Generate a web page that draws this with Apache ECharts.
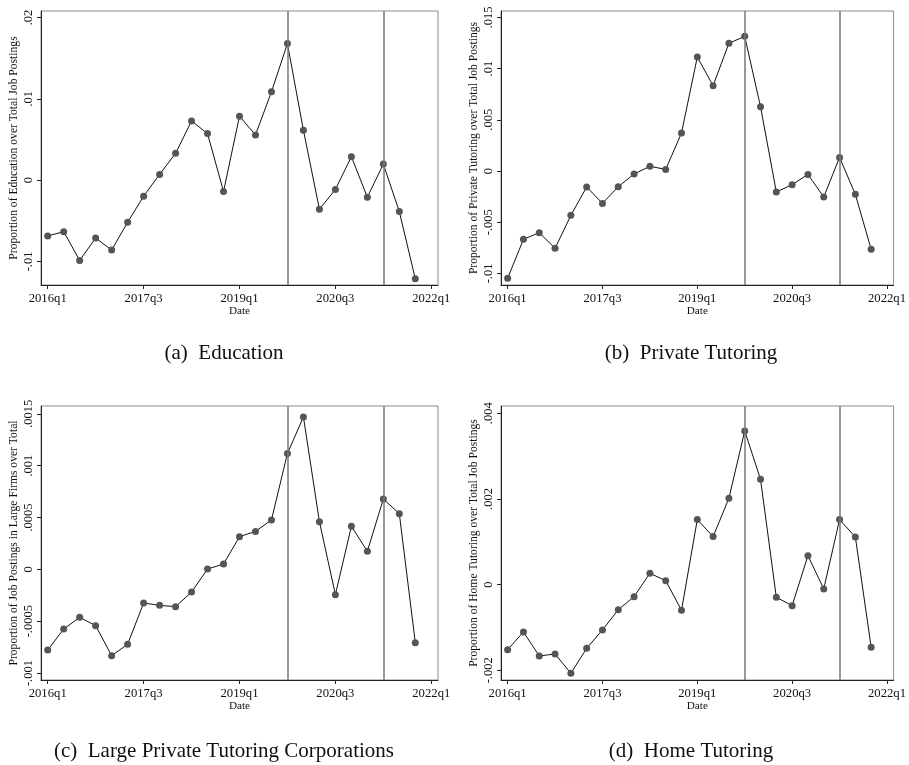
<!DOCTYPE html>
<html>
<head>
<meta charset="utf-8">
<script src="https://cdn.jsdelivr.net/npm/echarts@6/dist/echarts.min.js"></script>
<style>
html,body{margin:0;padding:0;background:#fff;}
#chart{width:909px;height:765px;}
</style>
</head>
<body>
<div id="chart"></div>
<script>
// Quarters 2016q1 .. 2021q4 (x index 0..23)
const quarters = ['2016q1','2016q2','2016q3','2016q4','2017q1','2017q2','2017q3','2017q4',
  '2018q1','2018q2','2018q3','2018q4','2019q1','2019q2','2019q3','2019q4',
  '2020q1','2020q2','2020q3','2020q4','2021q1','2021q2','2021q3','2021q4'];
const xTickPos = [0, 6, 12, 18, 24];
const xTickLabels = ['2016q1', '2017q3', '2019q1', '2020q3', '2022q1'];
const eventLines = [15, 21]; // 2019q4, 2021q2

const educationVals = [-0.00687, -0.00634, -0.00988, -0.00712, -0.0086, -0.00519, -0.00198, 0.0007,
  0.00329, 0.00728, 0.00572, -0.0014, 0.00786, 0.00556, 0.01086, 0.01679,
  0.00613, -0.00358, -0.00115, 0.00288, -0.0021, 0.00198, -0.00387, -0.01214];
const privateTutoringVals = [-0.01048, -0.00667, -0.00602, -0.00755, -0.00433, -0.00156, -0.00316, -0.00153,
  -0.00029, 0.00046, 0.00016, 0.00371, 0.01113, 0.00833, 0.01247, 0.01315,
  0.00628, -0.00205, -0.00133, -0.00033, -0.00254, 0.00133, -0.00228, -0.00765];
const largeFirmsVals = [-0.000778, -0.000575, -0.000463, -0.000543, -0.000832, -0.000723, -0.000325, -0.000347,
  -0.00036, -0.000219, 0.000003, 0.000051, 0.000315, 0.000366, 0.000476, 0.001118,
  0.001469, 0.00046, -0.000244, 0.000415, 0.000174, 0.000678, 0.000537, -0.000707];
const homeTutoringVals = [-0.001518, -0.001105, -0.001665, -0.001619, -0.00207, -0.001486, -0.001058, -0.000584,
  -0.00028, 0.000265, 0.000093, -0.000599, 0.001518, 0.001121, 0.002016, 0.003588,
  0.002459, -0.000296, -0.00049, 0.000677, -0.000101, 0.001518, 0.001113, -0.001463];

const yTicksA = [-0.01, 0, 0.01, 0.02];
const yTicksB = [-0.01, -0.005, 0, 0.005, 0.01, 0.015];
const yTicksC = [-0.001, -0.0005, 0, 0.0005, 0.001, 0.0015];
const yTicksD = [-0.002, 0, 0.002, 0.004];

const yTitles = [
  'Proportion of Education over Total Job Postings',
  'Proportion of Private Tutoring over Total Job Postings',
  'Proportion of Job Postings in Large Firms over Total',
  'Proportion of Home Tutoring over Total Job Postings'
];
const captions = ['(a)  Education', '(b)  Private Tutoring', '(c)  Large Private Tutoring Corporations', '(d)  Home Tutoring'];

const FONT = "'Liberation Serif', 'DejaVu Serif', serif";

function stataFmt(v) {
  let s = String(+Number(v).toPrecision(6));
  return s.replace(/^(-?)0\./, '$1.');
}

const panels = [
  { vals: educationVals, ticks: yTicksA, ymin: -0.0129, ymax: 0.0208, grid: { left: 41, top: 11, width: 397, height: 274 } },
  { vals: privateTutoringVals, ticks: yTicksB, ymin: -0.01113, ymax: 0.015625, grid: { left: 501, top: 11, width: 398, height: 274 } },
  { vals: largeFirmsVals, ticks: yTicksC, ymin: -0.001067, ymax: 0.001575, grid: { left: 41, top: 406, width: 397, height: 274 } },
  { vals: homeTutoringVals, ticks: yTicksD, ymin: -0.002226, ymax: 0.00417, grid: { left: 501, top: 406, width: 398, height: 274 } }
];

const captionPos = [[224, 353.5], [691, 353.5], [224, 751], [691, 751]];

const option = {
  animation: false,
  backgroundColor: '#fff',
  grid: panels.map(p => Object.assign({ show: true, borderColor: '#8a8a8a', borderWidth: 1, backgroundColor: 'transparent' }, p.grid)),
  xAxis: panels.map((p, i) => ({
    type: 'value', gridIndex: i, min: -0.42, max: 24.42,
    name: 'Date', nameLocation: 'middle', nameGap: 21,
    nameTextStyle: { fontFamily: FONT, fontSize: 11.2, color: '#111' },
    axisLine: { onZero: false, lineStyle: { color: '#222', width: 1 } },
    axisTick: { show: true, length: 4, customValues: xTickPos, lineStyle: { color: '#222' } },
    axisLabel: {
      customValues: xTickPos, margin: 7, fontFamily: FONT, fontSize: 12.7, color: '#111',
      formatter: v => xTickLabels[xTickPos.indexOf(Math.round(v))]
    },
    splitLine: { show: false }
  })),
  yAxis: panels.map((p, i) => ({
    type: 'value', gridIndex: i, min: p.ymin, max: p.ymax,
    name: yTitles[i], nameLocation: 'middle', nameGap: 21,
    nameTextStyle: { fontFamily: FONT, fontSize: 11.6, color: '#111' },
    axisLine: { show: true, onZero: false, lineStyle: { color: '#222', width: 1 } },
    axisTick: { show: true, length: 4, customValues: p.ticks, lineStyle: { color: '#222' } },
    axisLabel: {
      customValues: p.ticks, rotate: 90, margin: 6, fontFamily: FONT, fontSize: 12.5, color: '#111',
      formatter: v => stataFmt(v)
    },
    splitLine: { show: false }
  })),
  series: panels.map((p, i) => ({
    type: 'line', xAxisIndex: i, yAxisIndex: i,
    data: p.vals.map((v, k) => [k, v]),
    symbol: 'circle', symbolSize: 7,
    itemStyle: { color: '#555' },
    lineStyle: { color: '#111', width: 1 },
    markLine: {
      silent: true, symbol: ['none', 'none'], label: { show: false },
      lineStyle: { color: '#777', width: 1.5, type: 'solid' },
      data: eventLines.map(x => ({ xAxis: x }))
    },
    z: 3
  })),
  graphic: captions.map((t, i) => ({
    type: 'text', x: captionPos[i][0], y: captionPos[i][1],
    style: { text: t, fontFamily: FONT, fontSize: 21, fill: '#111', align: 'center', verticalAlign: 'middle' }
  }))
};

const chart = echarts.init(document.getElementById('chart'), null, { renderer: 'canvas' });
chart.setOption(option);
</script>
</body>
</html>
